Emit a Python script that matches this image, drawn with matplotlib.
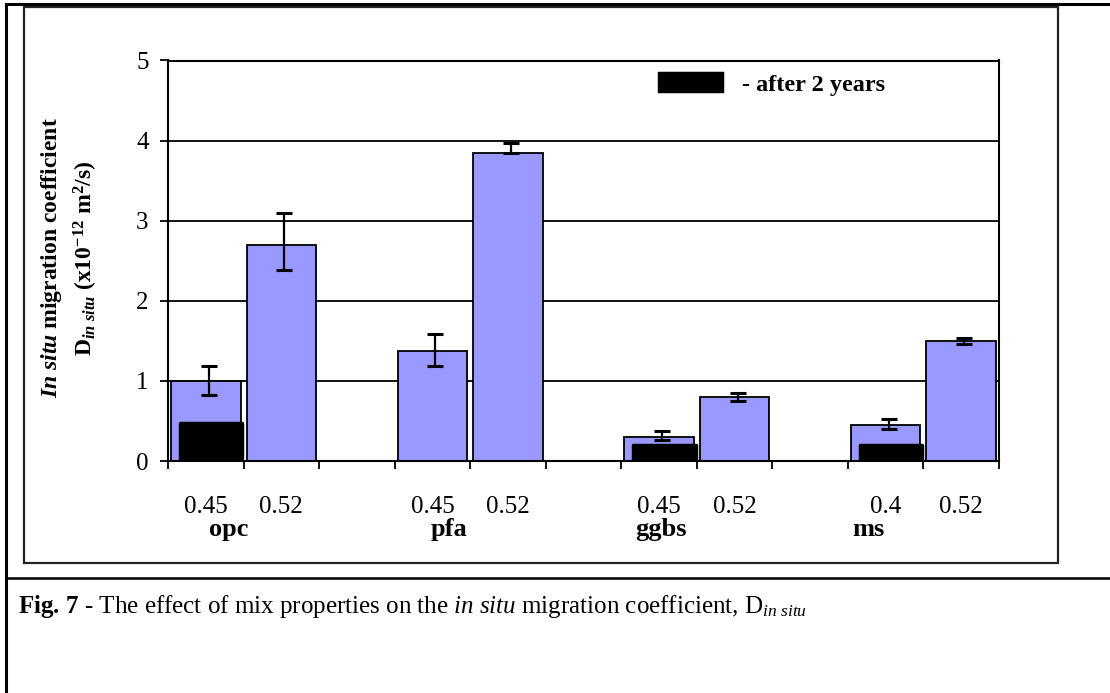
import numpy as np
import matplotlib
matplotlib.use('Agg')
import matplotlib.pyplot as plt
from matplotlib.lines import Line2D
from matplotlib.patches import Rectangle

plt.rcParams['font.family'] = ['Liberation Serif', 'DejaVu Serif']
plt.rcParams['mathtext.fontset'] = 'custom'
plt.rcParams['mathtext.rm'] = 'Liberation Serif'
plt.rcParams['mathtext.it'] = 'Liberation Serif:italic'
plt.rcParams['mathtext.bf'] = 'Liberation Serif:bold'
plt.rcParams['mathtext.bfit'] = 'Liberation Serif:italic:bold'

# data (11 slots: empty slots separate the binder groups)
slot_labels = ['0.45', '0.52', '', '0.45', '0.52', '', '0.45', '0.52', '', '0.4', '0.52']
groups = ['opc', 'pfa', 'ggbs', 'ms']
d_insitu = [1.00, 2.70, np.nan, 1.37, 3.84, np.nan, 0.30, 0.80, np.nan, 0.45, 1.50]
err_low = [0.18, 0.31, 0, 0.19, 0.0, 0, 0.04, 0.05, 0, 0.05, 0.04]
err_high = [0.19, 0.40, 0, 0.22, 0.13, 0, 0.07, 0.05, 0, 0.07, 0.03]
d_2years = [0.47, np.nan, np.nan, np.nan, np.nan, np.nan, 0.20, np.nan, np.nan, 0.20, np.nan]

x = np.arange(len(slot_labels))
group_x = [0.3, 3.22, 6.03, 8.77]

fig = plt.figure(figsize=(11.1, 6.93), dpi=100)
ax = fig.add_axes([168 / 1110, 1 - 461 / 693, (999 - 168) / 1110, (461 - 60.5) / 693])

for yv in [1, 2, 3, 4, 5]:
    ax.axhline(yv, color='black', lw=1.3, zorder=1)

ax.bar(x, d_insitu, width=0.92, color='#9999ff', edgecolor='black', lw=1.3, zorder=2)
ax.errorbar(x + 0.04, d_insitu, yerr=[err_low, err_high], fmt='none', ecolor='black',
            elinewidth=1.6, capsize=6, capthick=2.2, zorder=4)
bars2 = ax.bar(x + 0.07, d_2years, width=0.83, color='black', edgecolor='black', lw=2.5,
               joinstyle='round', zorder=3, label='- after 2 years')

ax.set_xlim(-0.5, len(x) - 0.5)
ax.set_ylim(0, 5)
ax.set_yticks([0, 1, 2, 3, 4, 5])
ax.tick_params(axis='y', direction='out', length=6, width=1.3, labelsize=18, pad=8)
ax.set_xticks(np.arange(-0.5, len(x), 1.0))
ax.set_xticklabels([])
ax.tick_params(axis='x', which='major', direction='out', length=6, width=1.3)
ax.set_xticks(x, minor=True)
ax.set_xticklabels(slot_labels, minor=True, fontsize=18)
ax.tick_params(axis='x', which='minor', length=0, pad=25)
for s in ax.spines.values():
    s.set_linewidth(1.5)

trans = ax.get_xaxis_transform()
for gx, g in zip(group_x, groups):
    ax.text(gx, -0.172, g, transform=trans, ha='center', va='center', fontsize=19, fontweight='bold')

ax.legend(handles=[bars2], loc='center left', bbox_to_anchor=(0.591, 0.941), frameon=False,
          borderpad=0, borderaxespad=0, handlelength=2.6, handleheight=0.8, handletextpad=0.8,
          prop={'weight': 'bold', 'size': 17.5})

fig.text(52 / 1110, 1 - 258 / 693, r'$\mathbfit{In\ situ}$ migration coefficient', rotation=90,
         ha='center', va='center', fontsize=17, fontweight='bold')
fig.text(86 / 1110, 1 - 258 / 693, r'D$_{\mathbfit{in\ situ}}$ (x10$^{\mathbf{-12}}$ m$^{\mathbf{2}}$/s)',
         rotation=90, ha='center', va='center', fontsize=17, fontweight='bold')

fig.text(18 / 1110, 1 - 606 / 693,
         r'$\mathbf{Fig.\,7}$ - The effect of mix properties on the $\mathit{in\ situ}$ migration coefficient, D$_{\mathit{in\ situ}}$',
         ha='left', va='center', fontsize=18)

# frame lines around chart and caption
W, H = 1110, 693
fig.add_artist(Line2D([6 / W, 1], [1 - 4 / H, 1 - 4 / H], color='black', lw=2.2))
fig.add_artist(Line2D([6 / W, 6 / W], [0, 1 - 4 / H], color='black', lw=2.2))
fig.add_artist(Line2D([6 / W, 1], [1 - 578 / H, 1 - 578 / H], color='black', lw=1.8))
fig.add_artist(Rectangle((24 / W, 1 - 563 / H), (1058 - 24) / W, (563 - 7) / H,
                         fill=False, edgecolor='#222222', lw=1.6, transform=fig.transFigure))

fig.savefig('out.png', dpi=100)
